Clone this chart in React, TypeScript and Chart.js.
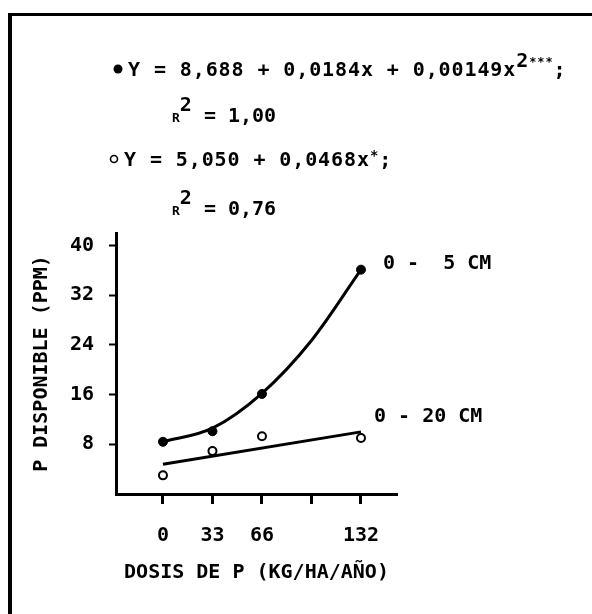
import React, { useEffect, useRef } from "react";
import { Chart, registerables } from "chart.js";
Chart.register(...registerables);

const doses = [0, 33, 66, 132];
const surface05 = [8.4, 10.1, 16.1, 36.1]; // 0-5 cm, filled dots
const depth020 = [3.0, 6.9, 9.3, 9.0]; // 0-20 cm, open dots
// Fitted curves as drawn in the figure
const curveX = [0, 33, 66, 99, 132];
const curve05 = [8.4, 10.6, 16.2, 24.7, 36.1];
const lineX = [0, 132];
const line020 = [4.8, 10.0];
// Axis ticks
const xTicks = [0, 33, 66, 99, 132];
const xTickLabels = ["0", "33", "66", "", "132"];
const yTicks = [8, 16, 24, 32, 40];
const seriesLabels = ["0 -  5 CM", "0 - 20 CM"];
const eqTexts = ["Y = 8,688 + 0,0184x + 0,00149x", "1,00", "Y = 5,050 + 0,0468x", "0,76"];
const xTitle = "DOSIS DE P (KG/HA/AÑO)";
const yTitle = "P DISPONIBLE (PPM)";

const FONT = '"DejaVu Sans Mono", "Liberation Mono", monospace';
const INK = "#000";
const WEIGHT = "bold";

type Part = { t: string; size: number; dy?: number };
function drawRich(ctx: CanvasRenderingContext2D, x: number, y: number, parts: Part[], spacing = 0) {
  let cx = x;
  (ctx as any).letterSpacing = spacing + "px";
  for (const p of parts) {
    ctx.font = `${WEIGHT} ${p.size}px ${FONT}`;
    ctx.fillText(p.t, cx, y + (p.dy || 0));
    cx += ctx.measureText(p.t).width;
  }
  (ctx as any).letterSpacing = "0px";
}

const decorPlugin = {
  id: "decor",
  beforeDraw(chart: any) {
    const ctx = chart.ctx as CanvasRenderingContext2D;
    ctx.save();
    ctx.fillStyle = "#fff";
    ctx.fillRect(0, 0, chart.width, chart.height);
    ctx.strokeStyle = INK;
    ctx.lineWidth = 3;
    ctx.beginPath();
    ctx.moveTo(8, 14.5);
    ctx.lineTo(chart.width, 14.5);
    ctx.stroke();
    ctx.lineWidth = 4;
    ctx.beginPath();
    ctx.moveTo(10, 13);
    ctx.lineTo(10, chart.height);
    ctx.stroke();
    ctx.restore();
  },
  afterDraw(chart: any) {
    const ctx = chart.ctx as CanvasRenderingContext2D;
    ctx.save();
    ctx.fillStyle = INK;
    ctx.strokeStyle = INK;
    ctx.textBaseline = "alphabetic";
    ctx.textAlign = "left";
    // equations
    const b1 = 76, b2 = 122, b3 = 166, b4 = 215;
    ctx.beginPath();
    ctx.arc(118, b1 - 7, 4.5, 0, Math.PI * 2);
    ctx.fill();
    drawRich(ctx, 128, b1, [
      { t: eqTexts[0], size: 20 },
      { t: "2", size: 20, dy: -9 },
      { t: "***", size: 12, dy: -10 },
      { t: ";", size: 20 },
    ], 0.9);
    drawRich(ctx, 172, b2, [
      { t: "R", size: 13 },
      { t: "2", size: 20, dy: -11 },
      { t: " = " + eqTexts[1], size: 20 },
    ]);
    ctx.lineWidth = 1.6;
    ctx.beginPath();
    ctx.arc(114, b3 - 7, 3.5, 0, Math.PI * 2);
    ctx.stroke();
    drawRich(ctx, 124, b3, [
      { t: eqTexts[2], size: 20 },
      { t: "*", size: 14, dy: -6 },
      { t: ";", size: 20 },
    ], 0.9);
    drawRich(ctx, 172, b4, [
      { t: "R", size: 13 },
      { t: "2", size: 20, dy: -11 },
      { t: " = " + eqTexts[3], size: 20 },
    ]);
    // series labels anchored to last fitted points
    const xs = chart.scales.x, ys = chart.scales.y;
    ctx.font = `${WEIGHT} 20px ${FONT}`;
    ctx.textBaseline = "middle";
    ctx.fillText(seriesLabels[0], xs.getPixelForValue(curveX[curveX.length - 1]) + 22, ys.getPixelForValue(curve05[curve05.length - 1]) - 6);
    ctx.fillText(seriesLabels[1], xs.getPixelForValue(lineX[lineX.length - 1]) + 13, ys.getPixelForValue(line020[line020.length - 1]) - 15);
    ctx.restore();
  },
};

export default function App() {
  const ref = useRef<HTMLCanvasElement | null>(null);
  useEffect(() => {
    if (!ref.current) return;
    const font = { family: FONT, size: 20, weight: WEIGHT };
    const chart = new Chart(ref.current, {
      type: "scatter",
      data: {
        datasets: [
          {
            data: doses.map((x, i) => ({ x, y: surface05[i] })),
            pointRadius: 4.5,
            pointBackgroundColor: INK,
            pointBorderColor: INK,
            pointBorderWidth: 1,
            showLine: false,
            order: 0,
          },
          {
            data: doses.map((x, i) => ({ x, y: depth020[i] })),
            pointRadius: 4,
            pointBackgroundColor: "#fff",
            pointBorderColor: INK,
            pointBorderWidth: 2,
            showLine: false,
            order: 0,
          },
          {
            data: curveX.map((x, i) => ({ x, y: curve05[i] })),
            showLine: true,
            pointRadius: 0,
            borderColor: INK,
            borderWidth: 3,
            cubicInterpolationMode: "monotone",
            order: 1,
          },
          {
            data: lineX.map((x, i) => ({ x, y: line020[i] })),
            showLine: true,
            pointRadius: 0,
            borderColor: INK,
            borderWidth: 3,
            order: 1,
          },
        ] as any,
      },
      options: {
        responsive: false,
        animation: false,
        devicePixelRatio: 1,
        layout: { padding: { top: 233, right: 195, left: 0, bottom: 0 } },
        plugins: { legend: { display: false }, tooltip: { enabled: false } },
        events: [],
        scales: {
          x: {
            type: "linear",
            min: -31.3,
            max: 156,
            afterBuildTicks: (s: any) => {
              s.ticks = xTicks.map((v) => ({ value: v }));
            },
            afterFit: (s: any) => {
              s.height = 120;
            },
            ticks: {
              autoSkip: false,
              maxRotation: 0,
              color: INK,
              font,
              padding: 20,
              callback: (_v: any, i: number) => xTickLabels[i],
            },
            grid: { drawOnChartArea: false, tickLength: 10, tickWidth: 3, color: INK },
            border: { display: true, color: INK, width: 3 },
            title: { display: true, text: xTitle, color: INK, font, padding: { top: 0, bottom: 29 } },
          },
          y: {
            type: "linear",
            min: 0,
            max: 42,
            afterBuildTicks: (s: any) => {
              s.ticks = yTicks.map((v) => ({ value: v }));
            },
            afterFit: (s: any) => {
              s.width = 116;
            },
            ticks: { color: INK, font, padding: 15 },
            grid: { drawOnChartArea: false, tickLength: 7, tickWidth: 2, color: INK },
            border: { display: true, color: INK, width: 3 },
            title: { display: true, text: yTitle, color: INK, font, padding: { top: 30, bottom: 0 } },
          },
        },
      } as any,
      plugins: [decorPlugin],
    });
    return () => chart.destroy();
  }, []);
  return (
    <div style={{ position: "fixed", left: 0, top: 0, width: 592, height: 614 }}>
      <canvas ref={ref} width={592} height={614} />
    </div>
  );
}
